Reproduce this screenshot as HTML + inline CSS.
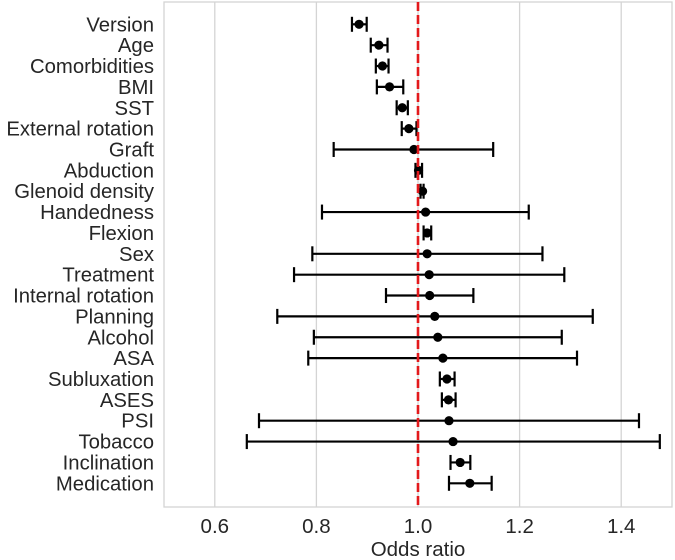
<!DOCTYPE html>
<html><head><meta charset="utf-8"><style>
body{margin:0;background:#fff;}
svg{display:block;font-family:"Liberation Sans",Arial,sans-serif;}
</style></head><body>
<svg id="chart" width="675" height="560"></svg>
<script>
const categories=["Version","Age","Comorbidities","BMI","SST","External rotation","Graft","Abduction","Glenoid density","Handedness","Flexion","Sex","Treatment","Internal rotation","Planning","Alcohol","ASA","Subluxation","ASES","PSI","Tobacco","Inclination","Medication"];
const estimates=[0.884,0.923,0.930,0.944,0.969,0.982,0.992,1.001,1.009,1.015,1.018,1.018,1.022,1.023,1.033,1.039,1.049,1.057,1.060,1.061,1.069,1.083,1.102];
const lowerCI=[0.870,0.907,0.917,0.919,0.958,0.968,0.834,0.995,1.005,0.811,1.011,0.792,0.756,0.937,0.723,0.795,0.784,1.043,1.047,0.687,0.663,1.064,1.061];
const upperCI=[0.899,0.940,0.942,0.971,0.980,0.997,1.148,1.008,1.011,1.218,1.026,1.245,1.288,1.109,1.344,1.283,1.313,1.072,1.074,1.435,1.476,1.103,1.145];
const xTicks=[0.6,0.8,1.0,1.2,1.4];
const xTickLabels=["0.6","0.8","1.0","1.2","1.4"];
const refValue=1.0;

const NS="http://www.w3.org/2000/svg";
const svg=document.getElementById('chart');
const L=164,R=672,T=2,B=507,x0=0.5,x1=1.5;
const n=categories.length;
const x=v=>L+(v-x0)/(x1-x0)*(R-L);
const y=i=>24.3+i*(483.3-24.3)/(n-1);
function mk(tag,attrs){const e=document.createElementNS(NS,tag);for(const k in attrs)e.setAttribute(k,attrs[k]);svg.appendChild(e);return e;}

xTicks.forEach((t,i)=>{
  const g=mk('line',{x1:x(t),x2:x(t),y1:T,y2:B,stroke:'#d4d4d4','stroke-width':1.3});
  
  
  const tl=mk('text',{x:x(t),y:533,'text-anchor':'middle','font-size':20.5,fill:'#262626'});
  tl.textContent=xTickLabels[i];
  
  
});
const fr=mk('rect',{x:L,y:T,width:R-L,height:B-T,fill:'none',stroke:'#d4d4d4','stroke-width':1.3});



categories.forEach((c,i)=>{
  const yl=mk('text',{x:154,y:y(i)+7,'text-anchor':'end','font-size':20.3,fill:'#262626'});
  yl.textContent=c;
  
  
  const cy=y(i);
  const ln=mk('line',{x1:x(lowerCI[i]),x2:x(upperCI[i]),y1:cy,y2:cy,stroke:'#000','stroke-width':2.2});
  
  
  [lowerCI[i],upperCI[i]].forEach(v=>{
    const cp=mk('line',{x1:x(v),x2:x(v),y1:cy-7.5,y2:cy+7.5,stroke:'#000','stroke-width':2.2});
    
    
  });
  const d=mk('circle',{cx:x(estimates[i]),cy:cy,r:4.6,fill:'#000'});
  
  
});

const ref=mk('line',{x1:x(refValue),x2:x(refValue),y1:T,y2:B,stroke:'#e3191c','stroke-width':2.6,'stroke-dasharray':'9,4'});


const xt=mk('text',{x:x(refValue),y:556,'text-anchor':'middle','font-size':20.5,fill:'#262626'});
xt.textContent='Odds ratio';


</script>
</body></html>
